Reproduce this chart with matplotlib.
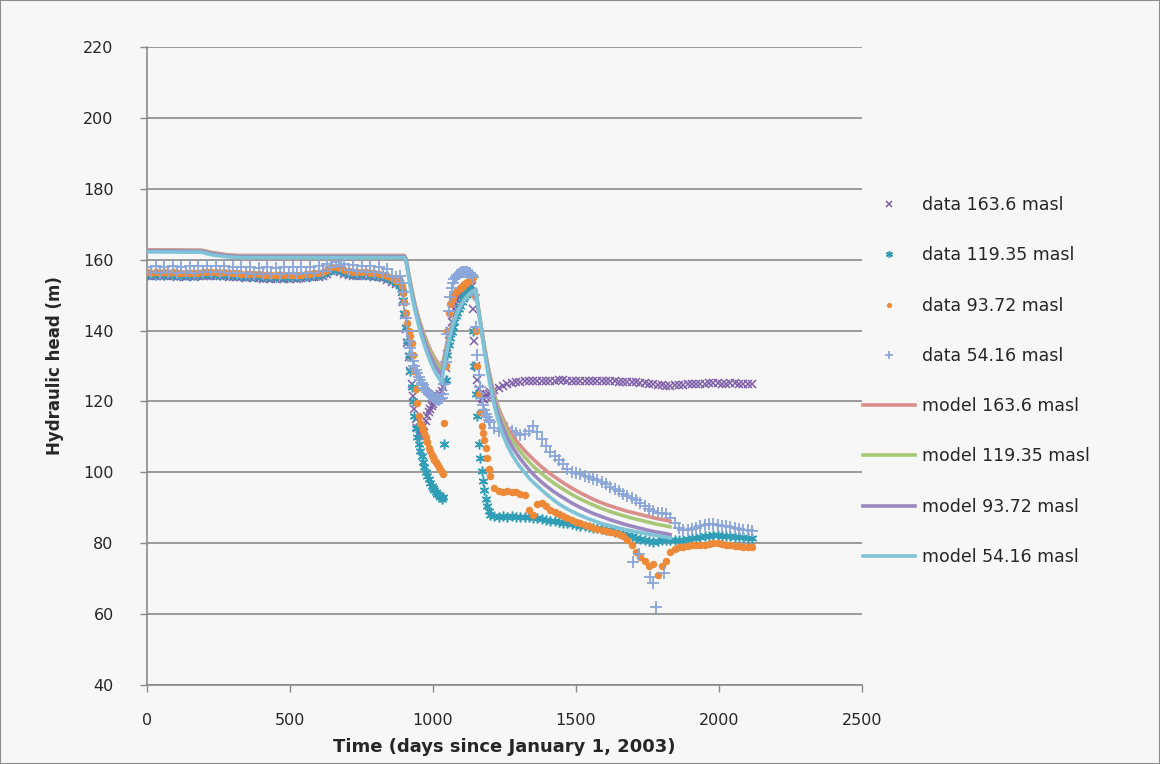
import numpy as np
import matplotlib
matplotlib.use("Agg")
import matplotlib.pyplot as plt
from matplotlib.lines import Line2D
from matplotlib.patches import Rectangle

# ---------------- observed heads (m) ----------------
# sampling days: plateau every 15 d, drawdown/recovery every 5 d, tail every 15 d
days_a = list(range(0, 871, 15))
days_b = list(range(885, 1201, 5))
days_c = list(range(1215, 2116, 15))
obs_days = days_a + days_b + days_c

obs_163 = [
    155.3, 155.4, 155.3, 155.4, 155.3, 155.4, 155.3, 155.2, 155.3, 155.2,
    155.3, 155.2, 155.3, 155.4, 155.5, 155.4, 155.5, 155.3, 155.4, 155.2,
    155.0, 155.1, 155.0, 154.9, 155.0, 154.8, 154.9, 154.6, 154.7, 154.5,
    154.6, 154.7, 154.5, 154.6, 154.8, 154.6, 154.7, 154.9, 155.0, 155.1,
    155.2, 155.4, 156.0, 156.8, 157.0, 156.6, 156.0, 155.7, 155.5, 155.5,
    155.4, 155.4, 155.3, 155.2, 155.0, 154.8, 154.3, 153.8, 153.0,
    # drawdown / recovery
    153.0, 151.0, 148.0, 144.5, 140.5, 136.5, 132.5, 128.5,
    125.0, 121.5, 118.0, 115.0, 112.5, 111.0, 110.3, 110.5,
    111.5, 113.0, 114.5, 116.0, 117.0, 118.0, 118.8, 119.4,
    120.0, 120.5, 121.0, 121.5, 122.0, 123.0, 124.0, 126.0,
    129.5, 133.5, 137.0, 140.0, 142.5, 144.5, 146.0, 147.5,
    148.5, 149.5, 150.3, 151.0, 151.5, 152.0, 152.3, 152.6,
    152.8, 153.0, 152.5, 146.0, 137.0, 130.0, 126.0, 123.5,
    122.0, 121.0, 120.6, 120.8, 121.2, 121.7, 122.2, 122.7,
    # tail
    123.3, 123.9, 124.4, 124.8, 125.1, 125.4, 125.6, 125.7, 125.8, 125.8,
    125.9, 125.9, 125.9, 125.9, 125.9, 126.0, 126.0, 125.9, 125.9, 125.9,
    125.9, 125.9, 125.8, 125.8, 125.8, 125.8, 125.7, 125.7, 125.7, 125.6,
    125.6, 125.5, 125.5, 125.4, 125.3, 125.2, 125.0, 124.8, 124.6, 124.5,
    124.4, 124.4, 124.5, 124.6, 124.7, 124.8, 124.9, 125.0, 125.0, 125.0,
    125.1, 125.1, 125.1, 125.0, 125.0, 125.1, 125.1, 125.0, 125.0, 125.0,
    125.0,
]

obs_119 = [
    155.8, 155.9, 155.8, 155.9, 155.8, 155.9, 155.8, 155.7, 155.8, 155.7,
    155.8, 155.7, 155.8, 155.9, 156.0, 155.9, 156.0, 155.8, 155.9, 155.7,
    155.6, 155.6, 155.5, 155.5, 155.5, 155.4, 155.4, 155.2, 155.3, 155.1,
    155.2, 155.3, 155.1, 155.2, 155.3, 155.2, 155.3, 155.4, 155.5, 155.6,
    155.7, 155.9, 156.5, 157.2, 157.4, 157.0, 156.5, 156.2, 156.0, 156.0,
    155.9, 155.9, 155.8, 155.7, 155.5, 155.3, 154.8, 154.3, 153.5,
    # drawdown / recovery
    152.5, 151.0, 148.5, 145.0, 141.0, 137.0, 133.0, 128.5,
    124.0, 120.0, 116.0, 112.5, 110.0, 108.0, 106.0, 104.5,
    103.0, 101.5, 100.0, 99.0, 98.0, 97.0, 96.2, 95.5,
    95.0, 94.5, 94.0, 93.5, 93.0, 92.5, 93.0, 108.0,
    126.0, 133.0, 136.0, 138.0, 139.5, 141.0, 142.5, 144.0,
    145.0, 146.0, 147.0, 148.0, 149.0, 149.5, 150.0, 150.5,
    151.0, 151.5, 151.5, 140.0, 130.0, 122.0, 116.0, 108.0,
    104.0, 100.5, 97.5, 95.0, 92.5, 90.5, 89.0, 88.0,
    # tail
    87.6, 87.5, 87.6, 87.5, 87.6, 87.5, 87.4, 87.4, 87.3, 87.2,
    87.0, 86.8, 86.6, 86.4, 86.2, 86.0, 85.8, 85.6, 85.4, 85.2,
    85.0, 84.8, 84.6, 84.4, 84.2, 84.0, 83.8, 83.6, 83.3, 83.0,
    82.7, 82.4, 82.0, 81.6, 81.2, 80.8, 80.6, 80.4, 80.6, 80.8,
    81.0, 81.0, 81.0, 80.9, 81.0, 81.2, 81.4, 81.6, 81.8, 82.0,
    82.1, 82.2, 82.2, 82.1, 82.0, 81.9, 81.8, 81.8, 81.7, 81.6,
    81.5,
]

obs_93 = [
    156.4, 156.3, 156.4, 156.3, 156.4, 156.3, 156.4, 156.2, 156.3, 156.2,
    156.3, 156.2, 156.3, 156.4, 156.5, 156.4, 156.5, 156.3, 156.4, 156.2,
    156.1, 156.1, 156.0, 156.0, 156.0, 155.9, 155.9, 155.7, 155.8, 155.6,
    155.7, 155.8, 155.6, 155.7, 155.8, 155.7, 155.8, 155.9, 156.0, 156.1,
    156.2, 156.5, 157.1, 157.8, 158.0, 157.6, 157.0, 156.7, 156.5, 156.5,
    156.4, 156.4, 156.3, 156.2, 156.0, 155.8, 155.3, 154.8, 154.0,
    # drawdown / recovery
    154.0, 152.5, 150.5, 148.0, 145.0, 142.0, 140.0, 138.5,
    136.5, 133.0, 128.5, 123.5, 119.5, 116.0, 114.0, 113.0,
    112.0, 111.0, 110.0, 108.5, 107.0, 106.0, 105.0, 104.2,
    103.5, 103.0, 102.3, 101.5, 100.8, 100.0, 99.5, 114.0,
    130.0, 140.0, 145.0, 147.5, 148.5, 149.5, 150.2, 150.8,
    151.2, 151.6, 152.0, 152.3, 152.6, 153.0, 153.3, 153.6,
    154.0, 154.3, 154.6, 155.0, 150.0, 140.0, 130.0, 122.0,
    117.0, 113.0, 111.0, 109.0, 107.0, 104.0, 101.0, 99.0,
    # tail
    95.5, 94.8, 94.5, 94.6, 94.5, 94.4, 94.0, 93.5, 89.5, 88.0,
    91.0, 91.3, 90.5, 89.5, 88.8, 88.2, 87.6, 87.0, 86.5, 86.0,
    85.6, 85.2, 84.8, 84.4, 84.0, 83.7, 83.4, 83.1, 82.8, 82.5,
    82.0, 81.0, 79.5, 77.5, 76.0, 75.0, 73.5, 74.0, 71.0, 73.5,
    75.0, 77.5, 78.3, 78.8, 79.0, 79.2, 79.4, 79.5, 79.6, 79.6,
    79.8, 80.0, 80.0, 79.8, 79.6, 79.5, 79.3, 79.2, 79.0, 79.0,
    78.9,
]

obs_54 = [
    158.0, 156.4, 158.1, 156.3, 158.0, 156.5, 158.1, 156.3, 158.0, 156.4,
    158.1, 156.3, 158.2, 156.5, 158.3, 156.6, 158.2, 156.4, 158.1, 156.3,
    157.9, 156.2, 157.8, 156.1, 157.9, 156.0, 157.7, 156.0, 157.8, 155.9,
    157.7, 156.0, 157.8, 156.1, 157.9, 156.0, 157.9, 156.2, 158.0, 156.3,
    158.1, 156.8, 158.8, 157.9, 159.4, 158.2, 158.9, 157.0, 158.4, 156.7,
    158.3, 156.6, 158.2, 156.5, 158.0, 156.2, 157.5, 155.5, 155.0,
    # drawdown / recovery
    155.5, 153.5, 151.0, 147.5, 143.5, 140.0, 137.0, 135.0,
    133.0, 131.5, 130.0, 129.0, 128.0, 127.0, 126.0, 125.2,
    124.5, 123.8, 123.2, 122.7, 122.2, 121.8, 121.5, 121.2,
    121.0, 120.8, 120.6, 120.5, 120.6, 121.0, 122.0, 125.0,
    131.0, 139.0, 145.5, 149.5, 152.0, 153.5, 154.5, 155.2,
    155.7, 156.0, 156.3, 156.5, 156.6, 156.6, 156.6, 156.5,
    156.3, 156.1, 155.8, 155.0, 150.0, 141.0, 133.0, 127.5,
    124.0, 121.0, 119.0, 117.5, 116.5, 115.5, 114.8, 114.2,
    # tail
    112.5, 111.8, 112.2, 112.6, 111.8, 111.2, 110.4, 110.8, 111.8, 113.2,
    111.5, 109.5, 107.5, 105.8, 104.6, 103.6, 102.3, 101.0, 100.2, 99.8,
    99.5, 99.0, 98.6, 98.2, 97.8, 97.4, 96.8, 96.0, 95.4, 94.6,
    94.0, 93.4, 92.8, 92.2, 91.4, 90.4, 89.6, 89.0, 88.4, 88.6,
    88.2, 87.2, 85.6, 84.4, 83.8, 83.8, 84.0, 84.4, 84.8, 85.2,
    85.4, 85.4, 85.2, 85.0, 84.8, 84.5, 84.2, 84.0, 83.8, 83.6,
    83.4,
]

# isolated low readings in the shallow piezometer
obs_54_low_days = [1700, 1720, 1760, 1770, 1780, 1806]
obs_54_low = [74.7, 77.0, 70.5, 68.8, 62.0, 71.6]

# ---------------- simulated heads (m) ----------------
model_days = ([0, 190, 230, 280, 320, 900, 905, 910]
              + list(range(920, 1241, 10))
              + list(range(1260, 1821, 20)) + [1835])

model_163 = [
    162.8, 162.7, 162.0, 161.4, 161.2, 161.2, 160.5, 158.5,
    154.0, 150.0, 146.5, 143.5, 141.0, 138.7, 136.6, 134.7, 133.1, 131.7,
    130.5, 129.6, 133.0, 137.0, 140.0, 142.5, 144.5, 146.2, 147.6, 148.8,
    149.8, 150.6, 151.2, 151.5, 145.5, 140.5, 135.5, 131.0, 127.0, 123.5,
    120.5, 118.0, 116.0,
    112.5, 110.0, 108.0, 106.2, 104.5, 103.0, 101.5, 100.2, 99.0, 97.9,
    96.8, 95.8, 94.9, 94.0, 93.2, 92.4, 91.7, 91.1, 90.5, 90.0,
    89.5, 89.0, 88.6, 88.2, 87.8, 87.4, 87.0, 86.7, 86.4, 86.1,
]
model_119 = [
    162.6, 162.5, 161.8, 161.2, 161.0, 161.0, 160.3, 158.2,
    153.6, 149.6, 146.0, 143.0, 140.4, 138.0, 135.9, 134.0, 132.4, 131.0,
    129.8, 128.8, 132.4, 136.4, 139.6, 142.2, 144.3, 146.1, 147.5, 148.7,
    149.7, 150.5, 151.1, 151.4, 145.4, 140.3, 135.2, 130.6, 126.5, 122.9,
    119.8, 117.2, 115.0,
    111.3, 108.6, 106.4, 104.4, 102.6, 101.0, 99.6, 98.3, 97.1, 96.0,
    95.0, 94.0, 93.1, 92.3, 91.5, 90.8, 90.1, 89.5, 88.9, 88.4,
    87.9, 87.4, 87.0, 86.6, 86.2, 85.8, 85.4, 85.1, 84.8, 84.5,
]
model_93 = [
    162.5, 162.4, 161.7, 161.1, 160.9, 160.9, 160.1, 158.0,
    153.2, 149.1, 145.5, 142.4, 139.7, 137.2, 135.0, 133.0, 131.3, 129.8,
    128.5, 127.5, 131.8, 136.0, 139.3, 142.0, 144.2, 146.0, 147.5, 148.7,
    149.7, 150.5, 151.1, 151.4, 145.2, 140.0, 134.7, 130.0, 125.8, 122.0,
    118.8, 116.0, 113.6,
    109.7, 106.8, 104.4, 102.3, 100.4, 98.7, 97.2, 95.9, 94.7, 93.6,
    92.6, 91.6, 90.7, 89.9, 89.1, 88.4, 87.8, 87.2, 86.6, 86.1,
    85.6, 85.1, 84.7, 84.3, 83.9, 83.5, 83.2, 82.9, 82.6, 82.3,
]
model_54 = [
    162.2, 162.1, 161.3, 160.8, 160.6, 160.6, 159.8, 157.6,
    152.6, 148.3, 144.6, 141.3, 138.4, 135.8, 133.5, 131.4, 129.6, 128.0,
    126.6, 125.5, 130.5, 135.0, 138.6, 141.6, 144.0, 146.0, 147.5, 148.7,
    149.7, 150.5, 151.1, 151.4, 145.0, 139.5, 134.0, 129.0, 124.5, 120.5,
    117.0, 114.0, 111.5,
    107.5, 104.5, 102.0, 100.0, 98.0, 96.5, 95.0, 93.6, 92.3, 91.1,
    90.1, 89.2, 88.4, 87.7, 87.0, 86.4, 85.8, 85.3, 84.9, 84.5,
    84.1, 83.7, 83.4, 83.1, 82.8, 82.5, 82.2, 81.9, 81.6, 81.4,
]

labels_obs = ["data 163.6 masl", "data 119.35 masl", "data 93.72 masl", "data 54.16 masl"]
labels_mod = ["model 163.6 masl", "model 119.35 masl", "model 93.72 masl", "model 54.16 masl"]
y_ticks = [40, 60, 80, 100, 120, 140, 160, 180, 200, 220]
x_ticks = [0, 500, 1000, 1500, 2000, 2500]

# ---------------- figure ----------------
bg = "#F7F7F7"
grid_c = "#8A8A8A"
text_c = "#262626"

fig = plt.figure(figsize=(11.6, 7.64), dpi=100, facecolor=bg)
ax = fig.add_axes([147 / 1160, 1 - 685 / 764, 715 / 1160, 638 / 764])
ax.set_facecolor(bg)

obs_style = [
    dict(marker="x", color="#7E5EA8", ms=6, mew=1.1),
    dict(marker=(6, 2, 0), color="#2F9DB6", ms=7, mew=1.1),
    dict(marker="o", color="#EE8A37", ms=5.4, mew=0),
    dict(marker="+", color="#8AA6D8", ms=8, mew=1.3),
]
mod_colors = ["#DA8F8C", "#A8C878", "#9B88C0", "#7FC3D8"]

obs_series = [obs_163, obs_119, obs_93, obs_54]
for vals, st in zip(obs_series, obs_style):
    assert len(vals) == len(obs_days)
    ax.plot(obs_days, vals, linestyle="none", zorder=3, **st)
ax.plot(obs_54_low_days, obs_54_low, linestyle="none", zorder=3, **obs_style[3])

mod_series = [model_163, model_119, model_93, model_54]
for vals, c in zip(mod_series, mod_colors):
    assert len(vals) == len(model_days)
    ax.plot(model_days, vals, color=c, lw=2.6, zorder=4, solid_capstyle="butt")

ax.set_xlim(0, 2500)
ax.set_ylim(40, 220)
ax.set_xticks(x_ticks)
ax.set_yticks(y_ticks)
ax.yaxis.grid(True, color=grid_c, lw=1.2)
ax.set_axisbelow(True)
for s in ["top", "right"]:
    ax.spines[s].set_visible(False)
for s in ["left", "bottom"]:
    ax.spines[s].set_color(grid_c)
    ax.spines[s].set_linewidth(1.2)
ax.tick_params(axis="both", direction="out", length=5, width=1.0, color=grid_c,
               labelsize=11.5, labelcolor=text_c)
ax.tick_params(axis="y", pad=19)
ax.tick_params(axis="x", pad=15)

ax.set_ylabel("Hydraulic head (m)", fontsize=12, fontweight="bold", color=text_c, labelpad=14)
ax.set_xlabel("Time (days since January 1, 2003)", fontsize=13, fontweight="bold",
              color=text_c, labelpad=7)

handles = [Line2D([], [], linestyle="none", **st) for st in obs_style]
handles += [Line2D([], [], color=c, lw=2.6) for c in mod_colors]
leg = ax.legend(handles, labels_obs + labels_mod, loc="upper left",
                bbox_to_anchor=(863 / 1160, 1 - 196 / 764), bbox_transform=fig.transFigure,
                frameon=False, fontsize=12.5, handlelength=3.0, handletextpad=0.4,
                labelspacing=1.86, borderpad=0, borderaxespad=0, markerscale=0.7)
for t in leg.get_texts():
    t.set_color(text_c)

fig.patches.append(Rectangle((0, 0), 1, 1, transform=fig.transFigure, fill=False,
                             edgecolor="#8C8C8C", lw=1.5))

fig.savefig("out.png", dpi=100, facecolor=bg)
